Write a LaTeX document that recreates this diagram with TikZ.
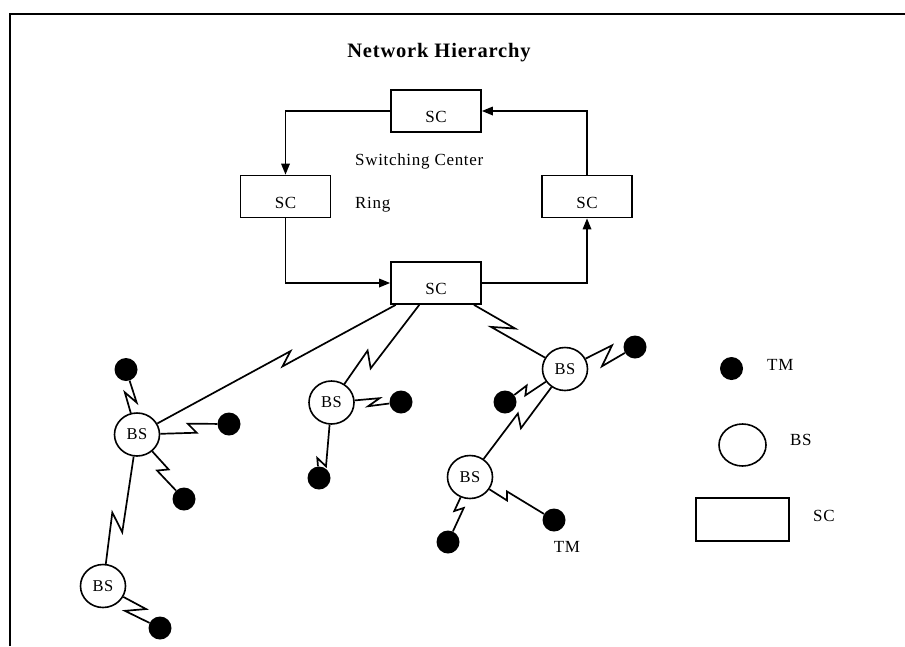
\documentclass[tikz,border=0pt]{standalone}
\usepackage{fontspec}
\setmainfont{Liberation Serif}[LetterSpace=4]
\usetikzlibrary{arrows.meta,calc,shapes.geometric}

\tikzset{
  lbl/.style={font=\fontsize{17}{20}\selectfont, inner sep=0pt},
  scbox/.style={draw, line width=1.7pt, minimum width=90pt, minimum height=42pt,
    inner sep=0pt, font=\fontsize{17}{20}\selectfont, text height=23pt, text depth=0pt},
  bsnode/.style={draw, ellipse, line width=1.6pt, minimum width=45pt, minimum height=43pt,
    inner sep=0pt, font=\fontsize{16.5}{19}\selectfont, text height=10.9pt, text depth=0pt},
  tmdot/.style={circle, fill=black, minimum size=23pt, inner sep=0pt},
  ringlink/.style={line width=1.7pt, -{Triangle[length=11pt,width=8.5pt]}},
  link/.style={line width=1.7pt, line join=miter},
  % radio link: straight line with a lightning zig at fraction #1,
  % zig length #2 along the line and #3 across it
  bolt/.style n args={3}{to path={
    (\tikztostart)
    -- ($(\tikztostart)!#1!(\tikztotarget)!#2pt!(\tikztotarget)!#3pt!90:(\tikztotarget)$)
    -- ($(\tikztostart)!#1!(\tikztotarget)!-#2pt!(\tikztotarget)!#3pt!-90:(\tikztotarget)$)
    -- (\tikztotarget)}},
}

\begin{document}
\begin{tikzpicture}[x=1pt, y=-1pt]
\useasboundingbox (0,0) rectangle (905,646);

% frame
\draw[line width=2pt] (10,646) -- (10,14) -- (905,14);

% title
\node[anchor=base, inner sep=0pt, font=\fontsize{20.5}{24}\selectfont\bfseries] (title) at (439,57) {Network Hierarchy};

% switching center ring
\node[scbox] (sct) at (436,111) {SC};
\node[scbox] (scl) at (285.5,196.5) {SC};
\node[scbox] (scr) at (587,196.5) {SC};
\node[scbox] (scb) at (436,283) {SC};

\node[lbl, anchor=base west] (swc) at (355,165) {Switching Center};
\node[lbl, anchor=base west] (ringlbl) at (355,208.3) {Ring};

\draw[ringlink] (sct.west) -| (scl.north);
\draw[ringlink] (scl.south) |- (scb.west);
\draw[ringlink] (scb.east) -| (scr.south);
\draw[ringlink] (scr.north) |- (sct.east);

% base stations
\node[bsnode] (bs1) at (137,434.5) {BS};
\node[bsnode] (bs2) at (103,586) {BS};
\node[bsnode] (bs3) at (331.5,402.5) {BS};
\node[bsnode] (bs4) at (565,369) {BS};
\node[bsnode] (bs5) at (470,477) {BS};

% terminals
\node[tmdot] (t1a) at (126,369.5) {};
\node[tmdot] (t1b) at (229,424) {};
\node[tmdot] (t1c) at (184,499) {};
\node[tmdot] (t2)  at (160,628) {};
\node[tmdot] (t3a) at (401,402) {};
\node[tmdot] (t3b) at (319,478) {};
\node[tmdot] (t4a) at (635,347) {};
\node[tmdot] (t4b) at (505,402) {};
\node[tmdot] (t5a) at (448,542) {};
\node[tmdot] (t5b) at (554,520) {};
\node[lbl, anchor=base] (tmlbl) at (567,552.7) {TM};

% radio links
\draw[link] (scb) to[bolt={0.5}{7}{5}] (bs1);
\draw[link] (scb) to[bolt={0.64}{5.7}{7}] (bs3);
\draw[link] (scb) to[bolt={0.52}{10.5}{6}] (bs4);
\draw[link] (bs1) to[bolt={0.57}{6}{5}] (t1a);
\draw[link] (bs1) to[bolt={0.6}{4}{-5}] (t1b);
\draw[link] (bs1) to[bolt={0.55}{3}{5}] (t1c);
\draw[link] (bs1) to[bolt={0.58}{8.5}{7}] (bs2);
\draw[link] (bs2) to[bolt={0.57}{8}{7}] (t2);
\draw[link] (bs3) to[bolt={0.61}{5.8}{4}] (t3a);
\draw[link] (bs3) to[bolt={0.79}{3.4}{5}] (t3b);
\draw[link] (bs4) to[bolt={0.6}{8}{8.5}] (t4a);
\draw[link] (bs4) to[bolt={0.65}{3}{4}] (t4b);
\draw[link] (bs4) to[bolt={0.48}{4.5}{6}] (bs5);
\draw[link] (bs5) to[bolt={0.5}{3}{-4}] (t5a);
\draw[link] (bs5) to[bolt={0.44}{2}{-4}] (t5b);

% legend
\node[tmdot] (legtm) at (731.5,368.5) {};
\node[lbl, anchor=base west] (legtmlbl) at (767,370) {TM};
\node[draw, ellipse, line width=1.6pt, minimum width=47pt, minimum height=42pt, inner sep=0pt] (legbs) at (742.5,445) {};
\node[lbl, anchor=base west] (legbslbl) at (790,445.7) {BS};
\node[draw, line width=1.7pt, minimum width=93pt, minimum height=43pt, inner sep=0pt] (legsc) at (742.5,519.5) {};
\node[lbl, anchor=base west] (legsclbl) at (813,521.7) {SC};
\end{tikzpicture}
\end{document}
